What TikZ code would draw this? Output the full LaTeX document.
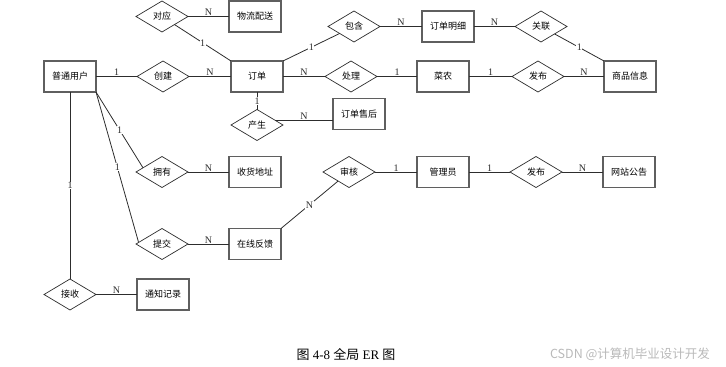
\documentclass[tikz,border=0pt]{standalone}
\usepackage{fontspec}
\setmainfont{Liberation Serif}
\newfontfamily\cjk{Noto Sans CJK SC}
\usepackage{tikz}
\usetikzlibrary{positioning, shapes.geometric, calc}
\definecolor{EdgeGray}{RGB}{45, 45, 45}
\definecolor{BoxGray}{RGB}{95, 95, 95}
\definecolor{MarkGray}{RGB}{185, 185, 185}

\begin{document}
\begin{tikzpicture}[x=1pt, y=-1pt,
      entity/.style={rectangle, draw=BoxGray, line width=1.2pt, fill=white, minimum width=52pt,
      minimum height=31pt, inner sep=0pt, outer sep=0pt, font=\cjk\fontsize{9}{9}\selectfont},
      relation/.style={diamond, draw=EdgeGray, line width=0.7pt, fill=white, minimum width=52pt,
      minimum height=31pt, inner sep=0pt, outer sep=0pt, font=\cjk\fontsize{9}{9}\selectfont},
      link/.style={draw=EdgeGray, line width=0.8pt},
      card/.style={midway, fill=white, inner sep=0.5pt, text=EdgeGray, font=\fontsize{10}{10}\selectfont},
      hcard/.style={card, yshift=4pt}
    ]
      \useasboundingbox (0,0) rectangle (726,367);

      % middle row
      \node[entity] (user) at (70,76.5) {普通用户};
      \node[relation, right=41pt of user] (create) {创建};
      \node[entity, right=42pt of create] (order) {订单};
      \node[relation, right=42pt of order] (handle) {处理};
      \node[entity, right=40pt of handle] (farmer) {菜农};
      \node[relation, right=43pt of farmer] (release) {发布};
      \node[entity, right=40pt of release] (goods) {商品信息};

      % top rows
      \node[relation, above=29pt of create, xshift=-1pt] (match) {对应};
      \node[entity, right=41pt of match] (logistics) {物流配送};
      \node[relation, above=19pt of handle, xshift=3pt] (contain) {包含};
      \node[entity, right=42pt of contain] (detail) {订单明细};
      \node[relation, right=41pt of detail] (relate) {关联};

      % below the order
      \node[relation, below=17.5pt of order] (produce) {产生};
      \node[entity, right=50pt of produce, yshift=11pt] (aftersale) {订单售后};

      % lower rows
      \node[relation, below=64.5pt of create, xshift=-1pt] (own) {拥有};
      \node[entity, right=41pt of own] (address) {收货地址};
      \node[entity, below=64.5pt of farmer] (admin) {管理员};
      \node[relation, left=42pt of admin] (audit) {审核};
      \node[relation, right=41pt of admin] (notice) {发布};
      \node[entity, right=41pt of notice] (board) {网站公告};
      \node[relation, below=41pt of own] (submit) {提交};
      \node[entity, right=41pt of submit] (feedback) {在线反馈};
      \node[relation, below=187pt of user] (receive) {接收};
      \node[entity, right=41pt of receive] (record) {通知记录};

      \coordinate (p) at ($(produce.east)!0.3!(produce.north)$);
      \coordinate (q) at ($(own.west)!0.27!(own.north)$);
      \coordinate (r) at ($(submit.west)!0.1!(submit.north)$);

      \draw[link] (user) -- node[hcard] {1} (create);
      \draw[link] (create) -- node[hcard] {N} (order);
      \draw[link] (match) -- node[hcard] {N} (logistics);
      \draw[link] (match) -- node[card] {1} (order.north west);
      \draw[link] (order.north east) -- node[card] {1} (contain);
      \draw[link] (contain) -- node[hcard] {N} (detail);
      \draw[link] (detail) -- node[hcard] {N} (relate);
      \draw[link] (relate) -- node[card] {1} (goods.north west);
      \draw[link] (order) -- node[hcard] {N} (handle);
      \draw[link] (handle) -- node[hcard] {1} (farmer);
      \draw[link] (farmer) -- node[hcard] {1} (release);
      \draw[link] (release) -- node[hcard] {N} (goods);
      \draw[link] (order) -- node[card] {1} (produce);
      \draw[link] (p) -- node[hcard] {N} (p -| aftersale.west);

      \draw[link] (user.south east) -- node[card] {1} (q);
      \draw[link] (user.south east) -- node[card] {1} (r);
      \draw[link] (user) -- node[card] {1} (receive);
      \draw[link] (own) -- node[hcard] {N} (address);
      \draw[link] (submit) -- node[hcard] {N} (feedback);
      \draw[link] (receive) -- node[hcard] {N} (record);
      \draw[link] (feedback.north east) -- node[card] {N} (audit);
      \draw[link] (audit) -- node[hcard] {1} (admin);
      \draw[link] (admin) -- node[hcard] {1} (notice);
      \draw[link] (notice) -- node[hcard] {N} (board);

      % caption and mark
      \node[font=\fontsize{13}{13}\selectfont] (caption) at (346,354) {{\cjk 图} 4-8 {\cjk 全局} ER {\cjk 图}};
      \node[text=MarkGray, font=\cjk\fontsize{12.5}{12.5}\selectfont] (mark) at (630,354) {CSDN @计算机毕业设计开发};
    \end{tikzpicture}
\end{document}
